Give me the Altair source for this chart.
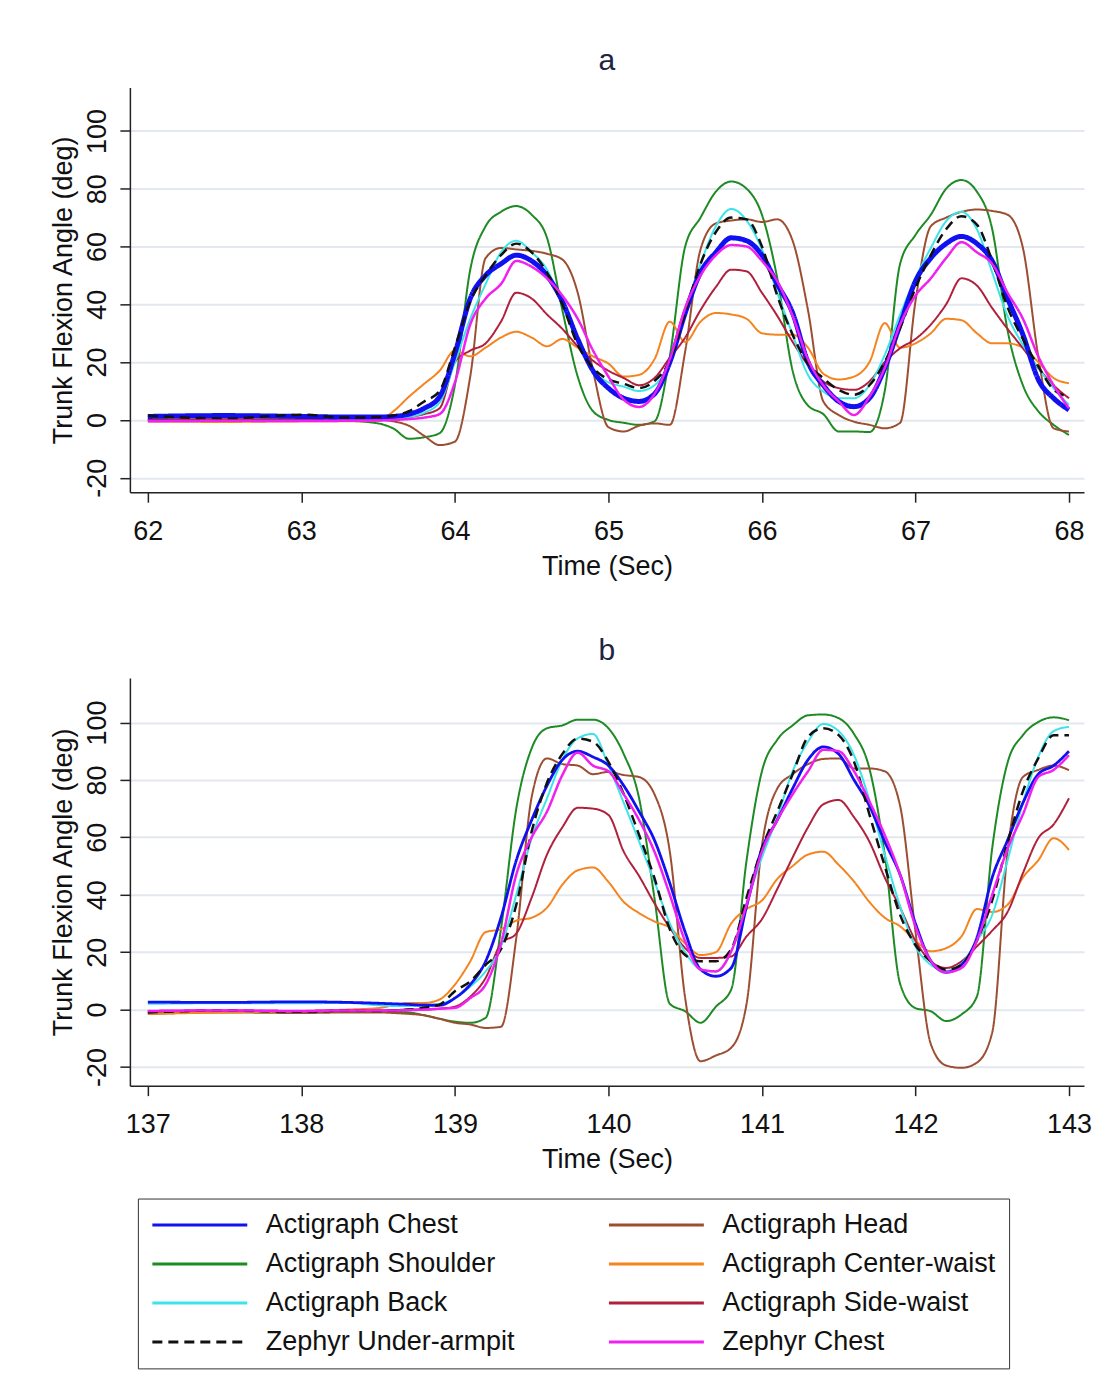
import altair as alt
import pandas as pd

FONT = "Liberation Sans"

# legend order (column-major: first column then second column)
SERIES = ["Actigraph Chest", "Actigraph Shoulder", "Actigraph Back", "Zephyr Under-armpit",
          "Actigraph Head", "Actigraph Center-waist", "Actigraph Side-waist", "Zephyr Chest"]
COLORS = ["#1010F0", "#1E8A24", "#3CE4EA", "#111111", "#9C4E32", "#F5841F", "#B0203C", "#F020F0"]
DASHES = [[1, 0], [1, 0], [1, 0], [10, 6], [1, 0], [1, 0], [1, 0], [1, 0]]

Y_TICKS = [-20, 0, 20, 40, 60, 80, 100]

# ---------------- panel a ----------------
T_A = [62.0, 62.5, 63.0, 63.3, 63.5, 63.6, 63.7, 63.8, 63.9, 64.0, 64.1, 64.2, 64.3, 64.4, 64.5,
       64.6, 64.7, 64.8, 64.9, 65.0, 65.1, 65.2, 65.3, 65.4, 65.5, 65.6, 65.7, 65.8, 65.9, 66.0,
       66.1, 66.2, 66.3, 66.4, 66.5, 66.6, 66.7, 66.8, 66.9, 67.0, 67.1, 67.2, 67.3, 67.4, 67.5,
       67.6, 67.7, 67.8, 67.9, 68.0]
A_CHEST = [1.2, 1.5, 1.2, 1.0, 1.0, 1.2, 2.0, 4, 8, 23, 42, 50, 54, 57, 55, 50, 41, 28, 17, 11,
           7.5, 6.4, 9, 20, 37, 51, 58, 63, 62, 57, 47, 37, 20, 12, 6.4, 4.6, 7.5, 18, 33, 48,
           56, 61, 63.5, 61, 55, 42, 29.5, 14, 7.5, 3.5]
A_BACK = [0.8, 1.0, 0.8, 0.5, 0.5, 0.5, 1.0, 2.5, 6, 20, 35, 47, 58, 62, 58, 52, 40, 27, 17, 13,
          11.5, 10, 12, 20, 38, 54, 67, 73, 69, 59, 44, 29.5, 15.6, 9.8, 7.5, 7.5, 12, 22.5, 36.4, 49,
          59.5, 68.8, 72, 66, 51, 36, 26, 18, 11, 5.2]
A_ARMPIT = [1.5, 0.5, 1.8, 0.8, 1.0, 1.5, 3, 6.4, 10, 25, 41, 50, 57, 61, 58, 51, 40, 26, 18, 14,
            12.5, 11, 13.5, 20.5, 37, 54, 65, 70, 69.4, 60, 43, 29.5, 19.5, 14.4, 10.4, 8.7, 12, 20, 31.8, 45.6,
            57, 66, 70.5, 67.6, 55, 39, 28, 18.5, 10.5, 8]
A_ZCHEST = [-0.5, -0.3, -0.4, -0.3, -0.2, 0, 0.3, 0.8, 2, 13, 33, 42, 47, 55, 53, 49, 43, 35, 24, 15,
            7, 4.5, 9, 21, 38.7, 50, 57, 60.5, 60, 55, 48, 36, 21, 12, 6.4, 1.7, 8, 18, 33, 43,
            49, 56, 61.5, 58, 54, 44, 35, 22, 12, 4]
A_SHOULDER = [0, 0.2, 0, -0.3, -1.2, -3, -6.5, -6, -4.6, 12, 52, 67, 72, 74, 71, 63, 38, 15, 3, 0,
              -1, -1.7, -0.5, 22, 60, 70, 79, 82.5, 80, 71, 49, 17, 5, 2, -4, -4, -4.2, 10, 54, 64,
              71, 80, 83, 79, 66, 31, 12, 3, -1.7, -5.2]
A_HEAD = [0, 0.3, 0, 0, 0, -0.5, -2, -5.5, -8.7, -7.5, 15, 56, 59.5, 59, 58.5, 57.5, 55.5, 44, 17, -2.5,
          -4, -2, -1.2, -1.7, 23.7, 59, 68, 69, 69.4, 68.5, 69.4, 62, 38, 6.4, 1.7, -0.6, -1.7, -2.9, -1, 41,
          67, 70, 72, 72.8, 72.3, 71, 59.5, 22, -2.9, -4]
A_SIDE = [0.3, 0, 0.3, 0, 0.3, 0.5, 1, 2, 4, 20, 24, 26.5, 34, 44, 42, 36.5, 31.5, 25.5, 20.5, 17,
          14.5, 12, 14.5, 21.5, 28.5, 38, 46, 52, 51.4, 44, 36, 27, 19, 13.3, 11, 10.4, 13.3, 20, 24.8, 28,
          33, 40, 49, 46.5, 38.7, 31.5, 24.8, 17.9, 12, 7.5]
A_CWAIST = [-0.5, -0.7, -0.5, -0.5, -0.3, 3, 8, 12.5, 17, 24, 22, 25, 28.5, 30.5, 28.5, 25.5, 28, 25, 22, 19.5,
            15, 15.6, 21, 34, 27, 34, 37, 36.5, 35, 30, 29.5, 29.5, 25, 16, 14, 15, 20, 33.5, 25, 26.5,
            30, 35, 34.5, 30, 26.5, 26.5, 25, 20, 14.5, 12.7]

# ---------------- panel b ----------------
T_B = [137.0, 137.5, 138.0, 138.3, 138.5, 138.6, 138.7, 138.8, 138.9, 139.0, 139.1, 139.2, 139.3, 139.4, 139.5,
       139.6, 139.7, 139.8, 139.9, 140.0, 140.1, 140.2, 140.3, 140.4, 140.5, 140.6, 140.7, 140.8, 140.9, 141.0,
       141.1, 141.2, 141.3, 141.4, 141.5, 141.6, 141.7, 141.8, 141.9, 142.0, 142.1, 142.2, 142.3, 142.4, 142.5,
       142.6, 142.7, 142.8, 142.9, 143.0]
B_CHEST = [2.6, 2.5, 2.7, 2.5, 2.2, 2, 1.8, 1.5, 1.5, 4, 8.7, 16.8, 32, 52, 66, 78, 87, 90, 88, 85,
           78, 69, 59, 44, 27, 14, 11.6, 14.5, 36, 56, 66, 77, 87, 91.5, 89, 80, 71, 58.5, 47, 30,
           17, 13, 15.6, 25, 46, 59, 72, 82, 85, 90]
B_BACK = [2.0, 2.2, 2.2, 2.3, 1.5, 1.2, 1.2, 1.5, 2, 4, 8, 13.3, 22, 40, 59.7, 73.6, 87, 94.5, 96, 85,
          72, 58.5, 44.6, 30, 20, 14, 13.3, 20.3, 37, 53, 67, 83, 93.3, 99.5, 97, 88.6, 73, 54, 36, 22,
          15.6, 13.5, 16, 24, 33, 52, 72, 88, 97, 98.5]
B_ARMPIT = [-1, -0.3, -0.8, -0.3, -0.5, -0.3, 0, 0.6, 1.7, 6.4, 9.8, 15.6, 21, 36.5, 62, 79, 89, 94.4, 93.3, 86.3,
            75, 60.8, 45.8, 28, 19, 16.8, 16.8, 21, 39, 56.2, 69, 82, 95, 98, 95.6, 86.3, 68, 50, 33, 22.5,
            16.8, 13.9, 15.6, 24, 38, 58, 76, 87.5, 95.6, 95.6]
B_ZCHEST = [-0.5, -0.3, -0.5, -0.3, -0.3, -0.3, -0.2, 0, 0.3, 0.6, 4, 8.7, 23, 47, 60, 69, 81.7, 89.5, 85, 83,
            75, 66, 55, 40, 23.8, 14, 13.3, 20.3, 36.5, 55, 66, 75, 83, 90.5, 90, 83, 72.5, 60.8, 47, 29,
            17, 13, 14.5, 24, 40, 56, 68, 81, 83.5, 88.6]
B_SHOULDER = [-1, -0.5, -0.7, -0.5, -0.5, -0.8, -1, -2, -3.2, -4.2, -4.6, -2.9, 28, 70, 91, 98, 99, 101, 101, 98,
              89, 73.6, 38.8, 2, -0.6, -4.6, 1, 7, 52, 83, 94, 99, 102.5, 102.8, 101.5, 96, 84, 54, 9, 0.5,
              -0.6, -4, -1.7, 4.5, 56.2, 86, 95.6, 100.2, 101.8, 100.8]
B_HEAD = [-1.5, -1, -1.2, -1, -1, -1.2, -1.5, -2, -3.2, -4.6, -5.2, -6.4, -6, 25, 74, 87.5, 85.5, 85, 82, 82.8,
          81.7, 81, 75, 55, 4, -18, -16, -13.3, 2, 57, 77, 82, 85.5, 87.3, 87.5, 84, 84, 83, 71, 27.2,
          -12, -19.5, -20.3, -18.5, -8, 55, 81, 83.5, 85, 83.4]
B_SIDE = [-0.5, -0.3, -0.5, -0.3, -0.3, -0.2, 0, 0, 0.3, 1, 4.5, 11, 23, 26.5, 39, 54, 63.5, 70.3, 70, 67.8,
          55, 46.5, 37, 28.5, 21.4, 18, 18, 18.5, 25.5, 31.5, 42, 53, 63.5, 71.5, 73, 67, 58.5, 46, 35.5, 24,
          16.8, 14.5, 16.8, 22, 27.5, 34, 47.5, 59.7, 64.5, 73.6]
B_CWAIST = [-1.5, -1, -0.5, 0, 0.5, 1.5, 2.3, 2.3, 3.5, 8.7, 16.8, 27, 28, 31, 32, 35.5, 43.5, 48.5, 49.5, 44.5,
            37.5, 33.6, 30.7, 28.5, 23, 19, 20, 30, 35, 38, 45.5, 50, 54, 55, 50.4, 44.6, 37.5, 32, 29, 24,
            20.3, 21.4, 25.5, 35, 34, 36.5, 46, 52, 59.7, 55.6]

# drawing order (bottom to top) and line widths per panel
DRAW = ["Actigraph Shoulder", "Actigraph Head", "Actigraph Center-waist", "Actigraph Side-waist",
        "Actigraph Back", "Actigraph Chest", "Zephyr Under-armpit", "Zephyr Chest"]
WIDTH_A = {"Actigraph Chest": 5, "Zephyr Chest": 2.5, "Zephyr Under-armpit": 2.5}
WIDTH_B = {"Actigraph Chest": 2.8, "Zephyr Chest": 2.5, "Zephyr Under-armpit": 2.5}

DATA_A = {"Actigraph Chest": A_CHEST, "Actigraph Head": A_HEAD, "Actigraph Shoulder": A_SHOULDER,
          "Actigraph Center-waist": A_CWAIST, "Actigraph Back": A_BACK, "Actigraph Side-waist": A_SIDE,
          "Zephyr Under-armpit": A_ARMPIT, "Zephyr Chest": A_ZCHEST}
DATA_B = {"Actigraph Chest": B_CHEST, "Actigraph Head": B_HEAD, "Actigraph Shoulder": B_SHOULDER,
          "Actigraph Center-waist": B_CWAIST, "Actigraph Back": B_BACK, "Actigraph Side-waist": B_SIDE,
          "Zephyr Under-armpit": B_ARMPIT, "Zephyr Chest": B_ZCHEST}


def frame(times, data, widths):
    rows = []
    for name in DRAW:
        for t, v in zip(times, data[name]):
            rows.append({"t": t, "v": v, "series": name, "w": widths.get(name, 2)})
    return pd.DataFrame(rows)


def panel(df, title, xdom, xvals, ydom, h):
    return alt.Chart(df).mark_line(interpolate="monotone", strokeJoin="round").encode(
        x=alt.X("t:Q", scale=alt.Scale(domain=xdom, nice=False, zero=False),
                axis=alt.Axis(values=xvals, title="Time (Sec)", grid=False, format="d",
                              labelPadding=16, titlePadding=9)),
        y=alt.Y("v:Q", scale=alt.Scale(domain=ydom, nice=False, zero=False),
                axis=alt.Axis(values=Y_TICKS, title="Trunk Flexion Angle (deg)", grid=True,
                              labelExpr="'' + datum.value",
                              labelAngle=270, labelAlign="center", labelBaseline="bottom",
                              labelPadding=8, titlePadding=6)),
        color=alt.Color("series:N", scale=alt.Scale(domain=SERIES, range=COLORS), title=None),
        strokeDash=alt.StrokeDash("series:N", scale=alt.Scale(domain=SERIES, range=DASHES), title=None),
        strokeWidth=alt.StrokeWidth("w:Q", scale=None),
    ).properties(
        width=955, height=h,
        title=alt.TitleParams(title, fontSize=30, font=FONT, color="#1C2541",
                              fontWeight="normal", anchor="middle", offset=12),
    )


chart_a = panel(frame(T_A, DATA_A, WIDTH_A), "a", [61.883, 68.098], [62, 63, 64, 65, 66, 67, 68], [-25, 115], 405)
chart_b = panel(frame(T_B, DATA_B, WIDTH_B), "b", [136.883, 143.098], [137, 138, 139, 140, 141, 142, 143],
                [-26.5, 115.5], 408)

chart = alt.vconcat(chart_a, chart_b, spacing=57).properties(
    padding={"left": 42, "top": 37, "right": 5, "bottom": 5},
    background="white",
).configure_view(stroke=None).configure_axis(
    labelFont=FONT, titleFont=FONT, labelFontSize=27, titleFontSize=27,
    labelColor="#111111", titleColor="#111111", titleFontWeight="normal",
    domainColor="#222222", tickColor="#222222", domainWidth=1.5, tickWidth=1.5, tickSize=10,
    gridColor="#E3E8EF", gridWidth=2,
).configure_legend(
    orient="none", legendX=8, legendY=1112,
    columns=2, symbolType="stroke", symbolSize=9025, symbolStrokeWidth=3,
    labelFont=FONT, labelFontSize=27, labelColor="#111111", labelOffset=17, labelLimit=700,
    clipHeight=27, rowPadding=11, columnPadding=92, padding=13, strokeColor="#333333",
)

chart.save("out.html", embed_options={"renderer": "svg", "actions": False})
